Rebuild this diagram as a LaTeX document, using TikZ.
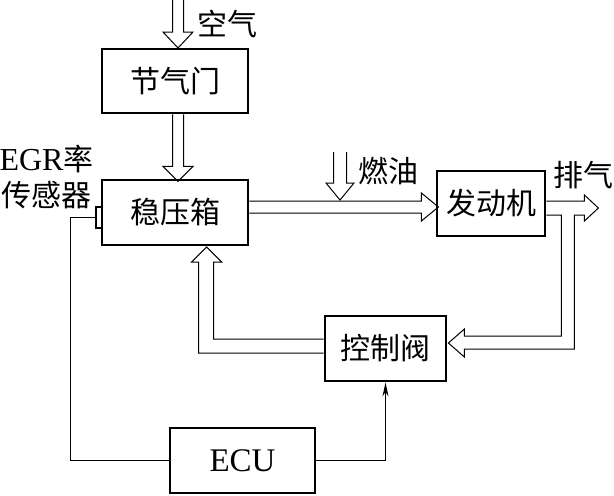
\documentclass[tikz,border=0pt]{standalone}
\usepackage{fontspec}
\setmainfont{Liberation Serif}
\newfontfamily\cjk{Noto Sans CJK SC}
\usetikzlibrary{calc,arrows.meta}
\tikzset{
    block/.style={draw, line width=1.4pt, inner sep=0pt},
    hollow/.style={line width=0.5pt, line join=miter},
    signal/.style={line width=0.5pt},
}

\begin{document}
\begin{tikzpicture}[x=0.5pt, y=-0.5pt, font=\fontsize{15}{15}\selectfont]
    \useasboundingbox (0,0) rectangle (614,495);
    % blocks
    \node[block, minimum width=73pt, minimum height=32pt] at (175,81) (throttle) {\cjk 节气门};
    \node[block, minimum width=73pt, minimum height=32.5pt] at (175,212.5) (plenum) {\cjk 稳压箱};
    \node[block, minimum width=54pt, minimum height=32.5pt] at (491,203.5) (engine) {\cjk 发动机};
    \node[block, minimum width=60.5pt, minimum height=32.5pt] at (385.5,348.5) (valve) {\cjk 控制阀};
    \node[block, minimum width=72.5pt, minimum height=32.5pt, font=\fontsize{16.5}{16}\selectfont] at (242.5,460.5) (ecu) {ECU};
    \node[block, line width=1.2pt, minimum width=3pt, minimum height=10.5pt] at (99,217.5) (sensor) {};
    % labels
    \node at (227,24) (airLabel) {\cjk 空气};
    \node[align=center, inner sep=0pt] at (46.5,177) (egrLabel) {{\fontsize{16}{15}\selectfont EGR}{\cjk 率}\\[3pt]{\cjk 传感器}};
    \node at (388,171) (fuelLabel) {\cjk 燃油};
    \node at (583,175) (exhaustLabel) {\cjk 排气};
    % hollow flow arrows
    \coordinate (airTop) at (178,0);
    \coordinate (fuelTop) at (340,152);
    \draw[hollow] ($(airTop)+(-5.5,0)$) -- ++(0,32) -- ++(-9.5,0) -- ++(15,16) -- ++(15,-16) -- ++(-9.5,0) -- ++(0,-32);
    \draw[hollow] ($(throttle.south)+(-2.5,0)$) -- ++(0,52) -- ++(-9.5,0) -- ++(15,15) -- ++(15,-15) -- ++(-9.5,0) -- ++(0,-52);
    \draw[hollow] ($(plenum.east)+(0,-11.5)$) -- ++(172,0) -- ++(0,-8) -- ++(17,14) -- ++(-17,14) -- ++(0,-8) -- ++(-172,0);
    \draw[hollow] ($(fuelTop)+(-6.5,0)$) -- ++(0,31) -- ++(-7.5,0) -- ++(14,17) -- ++(14,-17) -- ++(-7.5,0) -- ++(0,-31);
    \draw[hollow] ($(engine.east)+(0,-2.5)$) -- ++(38,0) -- ++(0,-6) -- ++(14,13) -- ++(-14,13) -- ++(0,-6)
        -- ++(-10,0) -- ++(0,134) -- ++(-110,0) -- ++(0,8) -- ++(-16,-14) -- ++(16,-14) -- ++(0,7)
        -- ++(97,0) -- ++(0,-121) -- ++(-15,0);
    \draw[hollow] ($(valve.west)+(0,-9.5)$) -- ++(-110,0) -- ++(0,-77) -- ++(8,0) -- ++(-15,-15) -- ++(-15,15)
        -- ++(7,0) -- ++(0,91) -- ++(125,0);
    % signal lines
    \draw[signal] (sensor.west) -- ++(-24,0) |- (ecu.west);
    \draw[signal, -{Stealth[length=7pt, width=3pt]}] (ecu.east) -| (valve.south);
\end{tikzpicture}
\end{document}
